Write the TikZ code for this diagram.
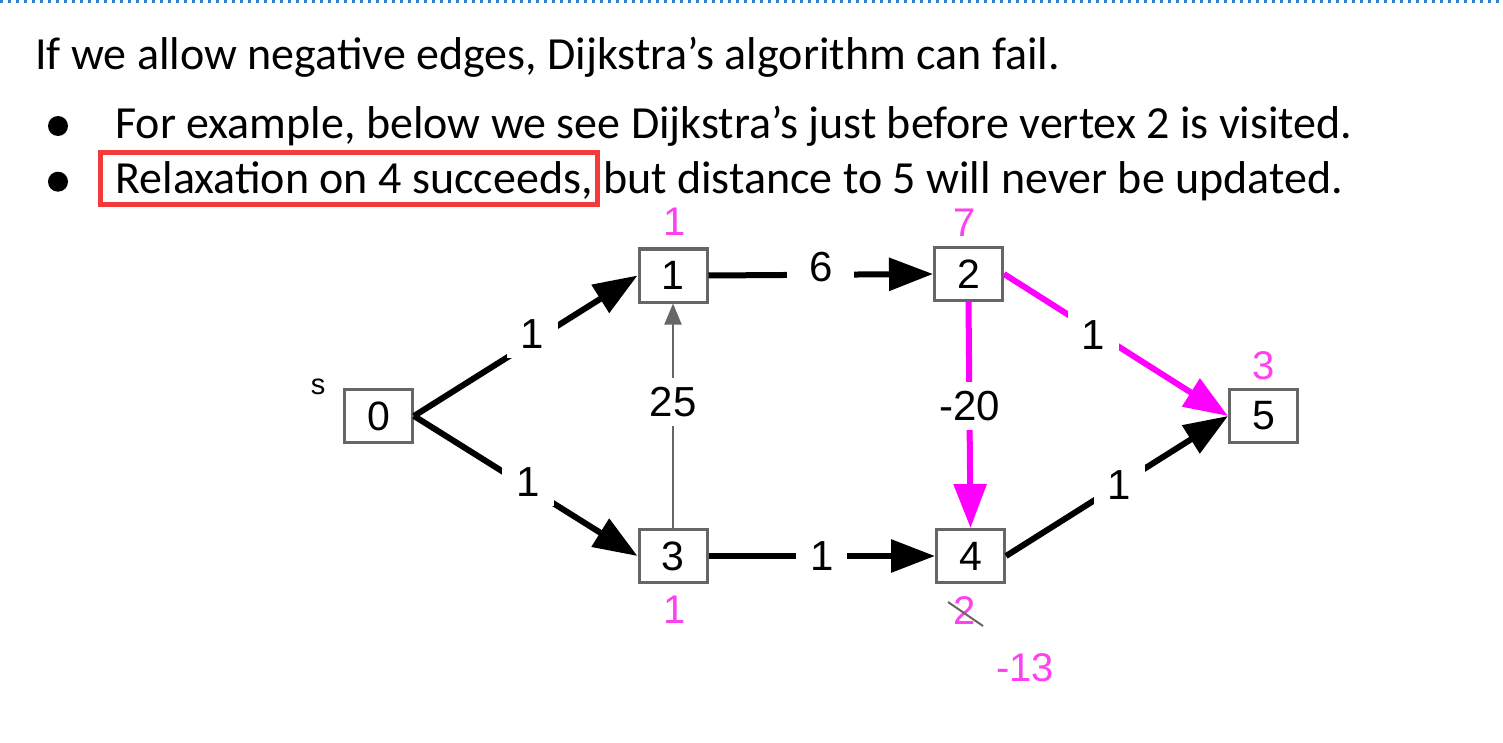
\documentclass[tikz,border=0pt]{standalone}
\usepackage{fontspec}
\setmainfont{Carlito}
\newfontfamily\arialfont{Liberation Sans}
\usetikzlibrary{arrows.meta,positioning}
\definecolor{pinkedge}{RGB}{255,0,255}
\definecolor{pinktext}{RGB}{255,64,240}
\definecolor{boxgray}{RGB}{102,102,102}
\definecolor{boxred}{RGB}{244,58,58}
\definecolor{dotblue}{RGB}{50,130,200}

\begin{document}
\begin{tikzpicture}[x=0.5pt,y=-0.5pt]
	\tikzstyle{every node}=[inner sep=0pt]
	\tikzstyle{txt}=[anchor=base west,font=\fontsize{23}{27}\selectfont]
	\tikzstyle{vertex}=[draw=boxgray,line width=1.5pt,minimum width=34pt,minimum height=26.5pt,font=\arialfont\fontsize{20.5}{22}\selectfont]
	\tikzstyle{wlab}=[fill=white,inner xsep=7pt,inner ysep=4.5pt,font=\arialfont\fontsize{21}{24}\selectfont]
	\tikzstyle{dist}=[text=pinktext,font=\arialfont\fontsize{20}{22}\selectfont]
	\tikzstyle{blackarc}=[line width=3pt,-{Triangle[length=22pt,width=16pt]}]
	\tikzstyle{pinkarc}=[blackarc,draw=pinkedge,fill=pinkedge]
	\tikzstyle{greyarc}=[line width=1pt,draw=boxgray,-{Triangle[length=10.5pt,width=8.5pt]}]
	\useasboundingbox (0,0) rectangle (1503,743);

	% dotted rule and text
	\draw[dotblue,line width=1.5pt,dash pattern=on 1.5pt off 2.5pt] (0,2) -- (1503,2);
	\node[txt] (l1) at (35,70) {If we allow negative edges, Dijkstra’s algorithm can fail.};
	\node[txt] (l2) at (115,138.3) {For example, below we see Dijkstra’s just before vertex 2 is visited.};
	\node[txt] (l3) at (115,193.3) {Relaxation on 4 succeeds, but distance to 5 will never be updated.};
	\fill (58,126) circle (5pt);
	\fill (58,181.7) circle (5pt);
	\draw[boxred,line width=2.5pt] (100,153) rectangle (597,205);

	% vertices
	\node[vertex] (n0) at (378.5,416) {0};
	\node[vertex] (n1) at (673,275.5) {1};
	\node[vertex] (n2) at (968.5,274) {2};
	\node[vertex] (n3) at (673,556) {3};
	\node[vertex] (n4) at (970.5,556) {4};
	\node[vertex] (n5) at (1263.5,416) {5};
	\node[font=\arialfont\fontsize{14.5}{16}\selectfont] (s) at (318,387) {s};

	% distances
	\node[dist] (d1) at (675,222) {1};
	\node[dist] (d2) at (965,223) {7};
	\node[dist] (d3) at (675,610) {1};
	\node[dist] (d4) at (965,611) {2};
	\node[dist] (d4new) at (1025,668) {-13};
	\node[dist] (d5) at (1264,366) {3};
	\draw[boxgray,line width=1pt] ([shift={(-17,-9)}]d4.center) -- ([shift={(18,15)}]d4.center);

	% edges
	\draw[blackarc] (n0.east) -- node[wlab,pos=.53,yshift=3.5pt] {1} (n1.west);
	\draw[blackarc] (n0.east) -- node[wlab,pos=.51,yshift=2.5pt] {1} (n3.west);
	\draw[blackarc] (n1.east) -- node[wlab,pos=.5,yshift=4pt,inner xsep=11pt] {6} (n2.west);
	\draw[blackarc] (n3.east) -- node[wlab,pos=.5] {1} (n4.west);
	\draw[blackarc] (n4.east) -- node[wlab,pos=.51] {1} (n5.west);
	\draw[greyarc] (n3.north) -- node[wlab,pos=.56] {25} (n1.south);
	\draw[pinkarc] (n2.south) -- node[wlab,pos=.46] {-20} (n4.north);
	\draw[pinkarc] (n2.east) -- node[wlab,pos=.4,yshift=-2pt] {1} (n5.west);
\end{tikzpicture}
\end{document}
